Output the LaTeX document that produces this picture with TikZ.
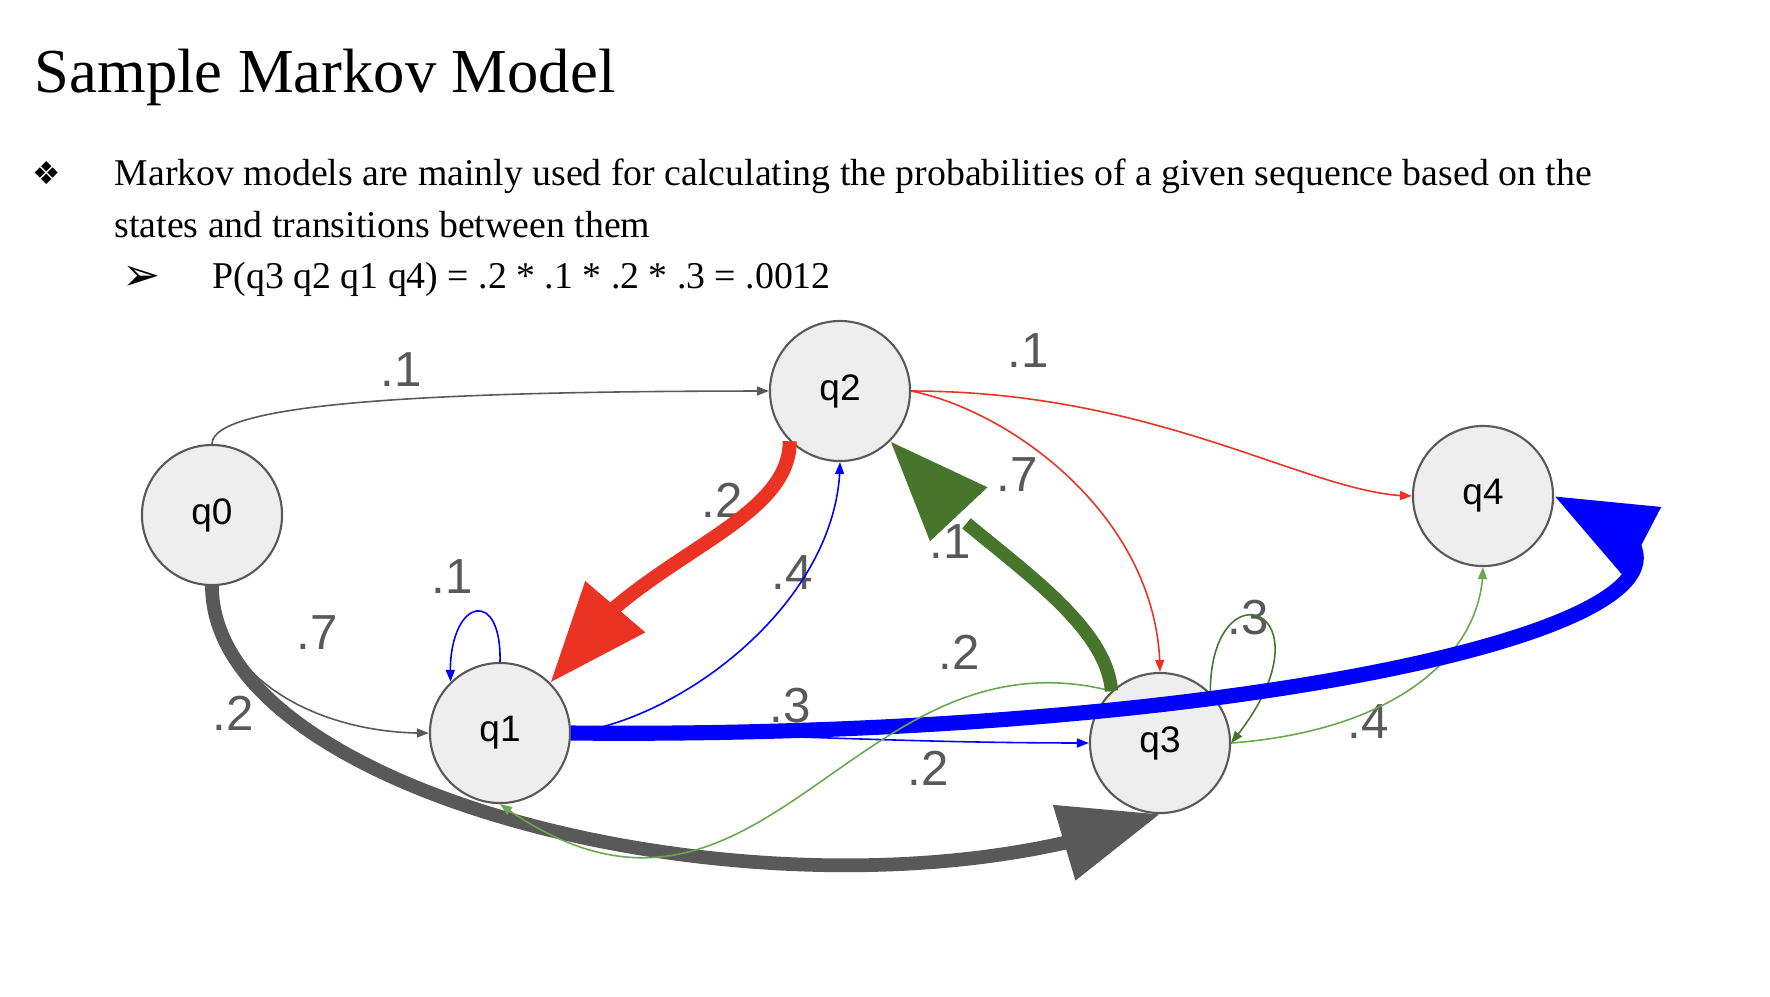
\documentclass[tikz,border=0pt]{standalone}
\usepackage{fontspec}
\setmainfont{Liberation Serif}
\newfontfamily\labelfont{Liberation Sans}
\newfontfamily\symfont{DejaVu Sans}
\usepackage{tikz}
\usetikzlibrary{arrows.meta,bending}
\definecolor{gry}{HTML}{595959}
\definecolor{ltgry}{HTML}{EEEEEE}
\definecolor{redc}{RGB}{234,51,35}
\definecolor{bluc}{HTML}{0000FF}
\definecolor{dgrn}{HTML}{48752C}
\definecolor{lgrn}{HTML}{6AA84F}
\begin{document}
\begin{tikzpicture}[x=0.01cm,y=0.01cm,
  state/.style={circle,draw=gry,fill=ltgry,line width=0.6pt,minimum size=1.4cm,inner sep=0pt,
    font=\labelfont\fontsize{10.5}{12}\selectfont},
  lbl/.style={text=gry,inner sep=0pt,font=\labelfont\fontsize{14}{16}\selectfont},
  para/.style={anchor=base west,inner sep=0pt,font=\fontsize{10.75}{13}\selectfont},
  lnk/.style={line width=0.45pt,-{Triangle[length=1.2mm,width=0.9mm]}},
  hot/.style={-{Triangle[length=10mm,width=7.5mm]}}]
\useasboundingbox (0,0) rectangle (1770,-996);
% heading and bullets
\node[anchor=base west,inner sep=0pt,font=\fontsize{17.8}{22}\selectfont] (title) at (34,-92) {Sample Markov Model};
\node[font=\symfont\fontsize{9}{10}\selectfont] (bul) at (47,-173) {❖};
\node[para] (txt1) at (114,-185)
  {Markov models are mainly used for calculating the probabilities of a given sequence based on the};
\node[para] (txt2) at (114,-237) {states and transitions between them};
\node[font=\symfont\fontsize{13}{14}\selectfont] (arr) at (142,-278) {➢};
\node[para] (txt3) at (212,-288) {P(q3 q2 q1 q4) = .2 * .1 * .2 * .3 = .0012};
% states
\node[state] (q0) at (212,-515) {q0};
\node[state] (q1) at (500,-733) {q1};
\node[state] (q2) at (840,-391) {q2};
\node[state] (q3) at (1160,-743) {q3};
\node[state] (q4) at (1483,-496) {q4};
% probabilities
\node[lbl] (l02) at (401,-370) {.1};
\node[lbl] (l01) at (317,-633) {.7};
\node[lbl] (l03) at (233,-713) {.2};
\node[lbl] (l11) at (452,-577) {.1};
\node[lbl] (l21) at (722,-500) {.2};
\node[lbl] (l12) at (792,-573) {.4};
\node[lbl] (l14) at (790,-706) {.3};
\node[lbl] (l13) at (928,-768) {.2};
\node[lbl] (l24) at (1028,-351) {.1};
\node[lbl] (l23) at (1017,-475) {.7};
\node[lbl] (l32) at (950,-542) {.1};
\node[lbl] (l31) at (959,-652) {.2};
\node[lbl] (l33) at (1248,-618) {.3};
\node[lbl] (l34) at (1368,-722) {.4};
% transitions
\draw[lnk,gry] (q0.north) .. controls +(0,40) and +(-350,0) .. (q2.west);
\draw[lnk,gry] (q0.south) .. controls +(7,-100) and +(-100,-2) .. (q1.west);
\draw[hot,gry,line width=3.9pt] (q0.south) .. controls +(0,-220) and +(-340,-132) .. (q3.south);
\draw[lnk,redc] (q2.east) .. controls +(250,0) and +(-100,0) .. (q4.west);
\draw[lnk,redc] (q2.east) .. controls +(101,-20) and +(0,153) .. (q3.north);
\draw[lnk,bluc] (q1.east) .. controls +(110,13) and +(0,-139) .. (q2.south);
\draw[lnk,bluc] (q1.east) to[out=0,in=180] (q3.west);
\draw[lnk,bluc] (q1.90) .. controls +(2,78) and +(-5,83) .. (q1.134);
\draw[lnk,dgrn] (q3.45) .. controls +(0,133) and +(110,133) .. (q3.east);
\draw[lnk,lgrn] (q3.east) .. controls +(170,13) and +(0,-84) .. (q4.south);
\draw[hot,bluc,line width=4.3pt] (q1.east) .. controls +(730,-7) and +(297,-104) .. (q4.east);
\draw[lnk,lgrn] (q3.133) .. controls +(-262,67) and +(260,-187) .. (q1.south);
\draw[hot,redc,line width=4pt] (q2.-135) .. controls +(0,-89) and +(70,123) .. (q1.45);
\draw[hot,dgrn,line width=3.8pt] (q3.133) .. controls +(-7,92) and +(40,-80) .. (q2.-45);
\end{tikzpicture}
\end{document}
